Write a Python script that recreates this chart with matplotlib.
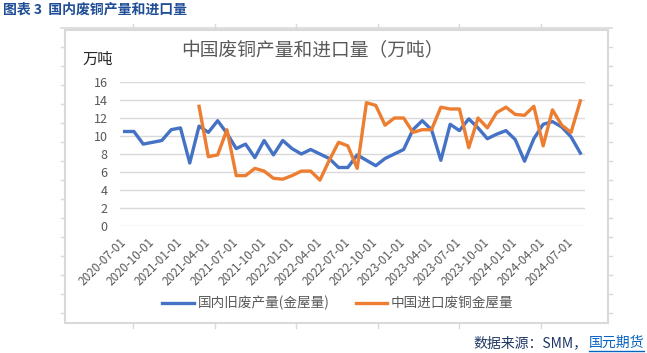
import numpy as np
import pandas as pd
import matplotlib
matplotlib.use("Agg")
import matplotlib.pyplot as plt
from matplotlib.lines import Line2D
from matplotlib.patches import Rectangle

plt.rcParams['font.family'] = ['Noto Sans CJK SC', 'DejaVu Sans']

# monthly data, 2020-07 .. 2024-08
months = pd.date_range("2020-07-01", periods=50, freq="MS")
domestic = [10.5, 10.5, 9.1, 9.3, 9.5, 10.7, 10.9, 7.0, 11.1, 10.4,
            11.7, 10.3, 8.6, 9.1, 7.6, 9.5, 7.9, 9.5, 8.6, 8.0,
            8.5, 8.0, 7.5, 6.5, 6.5, 7.9, 7.3, 6.7, 7.5, 8.0,
            8.5, 10.7, 11.7, 10.7, 7.3, 11.3, 10.6, 11.9, 10.9, 9.7,
            10.2, 10.6, 9.6, 7.2, 9.7, 11.3, 11.6, 11.0, 9.9, 8.1]
imports = [np.nan] * 8 + [
            13.3, 7.7, 7.9, 10.7, 5.6, 5.6, 6.4, 6.1, 5.3, 5.2,
            5.6, 6.1, 6.1, 5.1, 7.3, 9.3, 8.9, 6.4, 13.7, 13.4,
            11.2, 12.0, 12.0, 10.4, 10.7, 10.7, 13.2, 13.0, 13.0, 8.7,
            12.0, 10.9, 12.6, 13.2, 12.4, 12.3, 13.3, 8.9, 12.9, 11.2,
            10.4, 13.9]
series_names = ["国内旧废产量(金屋量)", "中国进口废铜金屋量"]

W, H = 647, 353
fig = plt.figure(figsize=(W / 100, H / 100), dpi=100)

def fx(px):
    return px / W

def fy(py):
    return 1 - py / H

grey = "#D9D9D9"
# spreadsheet cell borders behind the chart
fig.add_artist(Line2D([fx(61), fx(612)], [fy(28), fy(28)], color=grey, lw=1.2))
for x in [133, 215, 296, 378, 459, 541]:
    fig.add_artist(Line2D([fx(x), fx(x)], [fy(24), fy(28)], color=grey, lw=1))
    fig.add_artist(Line2D([fx(x), fx(x)], [fy(323), fy(328)], color=grey, lw=1))
for y in range(47, 330, 19):
    fig.add_artist(Line2D([fx(61), fx(65)], [fy(y), fy(y)], color=grey, lw=1))
    fig.add_artist(Line2D([fx(608), fx(612)], [fy(y), fy(y)], color=grey, lw=1))

# chart frame
fig.add_artist(Rectangle((fx(65), fy(323)), fx(608) - fx(65), fy(30) - fy(323),
                         fill=False, edgecolor=grey, lw=1.5))

ax = fig.add_axes([fx(120), fy(226), fx(585) - fx(120), fy(82) - fy(226)])
x = np.arange(len(months))
ax.plot(x, domestic, color="#4472C4", lw=2.4, label=series_names[0], solid_joinstyle="round")
ax.plot(x, imports, color="#ED7D31", lw=2.4, label=series_names[1], solid_joinstyle="round")

ax.set_xlim(-0.5, len(months) - 0.5)
ax.set_ylim(0, 16)
ax.set_yticks(range(0, 17, 2))
tick_pos = np.arange(0, len(months), 3) - 0.5
tick_lab = [m.strftime("%Y-%m-%d") for m in months[::3]]
ax.set_xticks(tick_pos)
ax.set_xticklabels(tick_lab, rotation=45, ha="right", rotation_mode="anchor",
                   fontsize=8.5, color="#595959")
ax.tick_params(axis="x", length=0, pad=7)
ax.tick_params(axis="y", length=0, pad=9, labelsize=9, labelcolor="#595959")
for s in ax.spines.values():
    s.set_visible(False)
ax.grid(axis="y", color=grey, lw=1)
ax.set_axisbelow(True)

fig.text(fx(312), fy(51), "中国废铜产量和进口量（万吨）", ha="center", va="center",
         fontsize=13.5, color="#595959")
fig.text(fx(98), fy(59), "万吨", ha="center", va="center", fontsize=11, color="#262626")

ax.legend(loc="center", bbox_to_anchor=(fx(338), fy(303)), bbox_transform=fig.transFigure,
          ncol=2, frameon=False, fontsize=9.8, labelcolor="#595959",
          handlelength=2.3, handletextpad=0.3, columnspacing=1.9)

fig.text(fx(3), fy(10), "图表 3  国内废铜产量和进口量", ha="left", va="center",
         fontsize=10, fontweight="bold", color="#1F4E96")
fig.text(fx(587), fy(343), "数据来源：SMM，", ha="right", va="center",
         fontsize=10, color="#1F3864")
fig.text(fx(589), fy(343), "国元期货", ha="left", va="center",
         fontsize=10, color="#0563C1")
fig.add_artist(Line2D([fx(589), fx(644)], [fy(351), fy(351)], color="#0563C1", lw=1))

fig.savefig("out.png", dpi=100)
